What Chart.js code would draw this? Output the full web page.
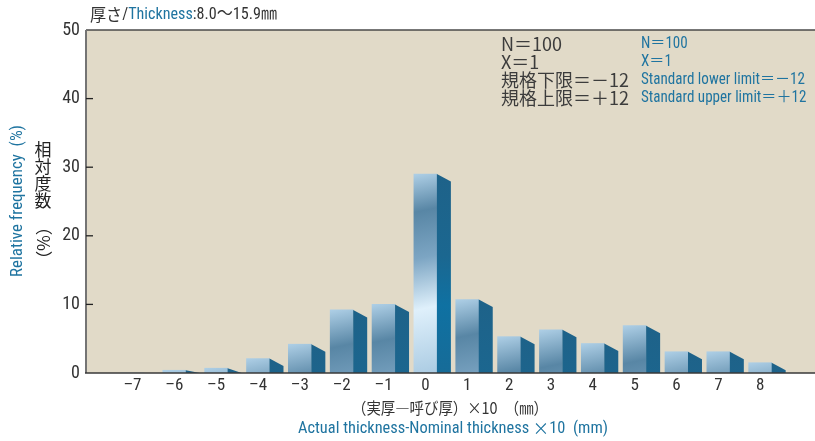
<!DOCTYPE html>
<html>
<head>
<meta charset="utf-8">
<script src="https://cdn.jsdelivr.net/npm/chart.js@4.4.1/dist/chart.umd.min.js"></script>
<style>
  html, body { margin: 0; padding: 0; background: #ffffff; }
  #wrap { width: 815px; height: 441px; }
</style>
</head>
<body>
<div id="wrap"><canvas id="chart" width="815" height="441"></canvas></div>
<script>
// Deviation classes: (actual - nominal thickness) x 10, in mm
const categories = [-7, -6, -5, -4, -3, -2, -1, 0, 1, 2, 3, 4, 5, 6, 7, 8];
// Relative frequency of each class, %
const frequency = [0, 0.4, 0.7, 2.1, 4.2, 9.2, 10.0, 29.0, 10.7, 5.3, 6.3, 4.3, 6.9, 3.1, 3.1, 1.5];
// Vertical axis ticks, %
const yTicks = [0, 10, 20, 30, 40, 50];

// Summary notes (Japanese / English)
const notesJa = ['N＝100', 'X＝1', '規格下限＝－12', '規格上限＝＋12'];
const notesEn = ['N＝100', 'X＝1', 'Standard lower limit＝－12', 'Standard upper limit＝＋12'];

const TEAL = '#1f74a0';
const DARK = '#333333';
const LAT = '"Roboto Condensed", "DejaVu Sans Condensed", "Liberation Sans Narrow", Roboto, "Noto Sans CJK JP", sans-serif';
const JP = '"Noto Sans CJK JP", sans-serif';
const DEPTH = 14;   // side face width
const SLANT = 7.5;  // side face top drop

function frontFill(ctx) {
  const chart = ctx.chart;
  if (!chart.chartArea || ctx.type !== 'data') return '#8fb5d0';
  const x = chart.scales.x.getPixelForValue(ctx.raw.x);
  const top = chart.scales.y.getPixelForValue(ctx.raw.y);
  const g = chart.ctx.createLinearGradient(x - 12, top, x + 30, top + 205);
  g.addColorStop(0, '#aecfe6');
  g.addColorStop(0.18, '#5886a5');
  g.addColorStop(0.4, '#7ca5c3');
  g.addColorStop(0.64, '#dff0fb');
  g.addColorStop(1, '#a3c6df');
  return g;
}

const bgPlugin = {
  id: 'plotBackground',
  beforeDatasetsDraw(chart) {
    const { ctx, chartArea: a } = chart;
    ctx.save();
    ctx.fillStyle = '#e1dac8';
    ctx.fillRect(a.left, a.top, a.right - a.left, a.bottom - a.top);
    ctx.restore();
  }
};

const depthPlugin = {
  id: 'barDepth',
  afterDatasetsDraw(chart) {
    const { ctx } = chart;
    const meta = chart.getDatasetMeta(0);
    ctx.save();
    meta.data.forEach((bar) => {
      const p = bar.getProps(['x', 'y', 'base', 'width'], true);
      if (p.base - p.y < 0.5) return;
      const xr = p.x + p.width / 2;
      const yTopBack = Math.min(p.y + SLANT, p.base);
      const g = ctx.createLinearGradient(xr, p.y, xr, p.y + 205);
      g.addColorStop(0, '#1e6289');
      g.addColorStop(0.4, '#1b6790');
      g.addColorStop(0.64, '#0f71a2');
      g.addColorStop(1, '#176b97');
      ctx.fillStyle = g;
      ctx.beginPath();
      ctx.moveTo(xr, p.y);
      ctx.lineTo(xr + DEPTH, yTopBack);
      ctx.lineTo(xr + DEPTH, p.base);
      ctx.lineTo(xr, p.base);
      ctx.closePath();
      ctx.fill();
    });
    ctx.restore();
  }
};

const axesPlugin = {
  id: 'axisFrame',
  afterDatasetsDraw(chart) {
    const { ctx, chartArea: a, scales } = chart;
    ctx.save();
    // top border
    ctx.strokeStyle = '#4a4a4a';
    ctx.lineWidth = 1.5;
    ctx.beginPath(); ctx.moveTo(a.left, a.top); ctx.lineTo(a.right, a.top); ctx.stroke();
    // left axis
    ctx.strokeStyle = '#747474';
    ctx.lineWidth = 2;
    ctx.beginPath(); ctx.moveTo(a.left, a.top); ctx.lineTo(a.left, a.bottom); ctx.stroke();
    // inward tick marks
    ctx.strokeStyle = '#222222';
    ctx.lineWidth = 1.3;
    yTicks.slice(1, -1).forEach((v) => {
      const y = scales.y.getPixelForValue(v);
      ctx.beginPath(); ctx.moveTo(a.left, y); ctx.lineTo(a.left + 7, y); ctx.stroke();
    });
    // baseline
    ctx.strokeStyle = '#383838';
    ctx.lineWidth = 1.6;
    ctx.beginPath(); ctx.moveTo(a.left - 1, a.bottom); ctx.lineTo(a.right, a.bottom); ctx.stroke();
    ctx.restore();
  }
};

// draws a run of coloured text pieces squeezed horizontally to a given width
function drawFitted(ctx, segs, x, y, width, align) {
  let total = 0;
  segs.forEach(([text, , font]) => { ctx.font = font; total += ctx.measureText(text).width; });
  const k = width / total;
  ctx.save();
  ctx.textAlign = 'left';
  let left = x;
  if (align === 'center') left = x - width / 2;
  ctx.translate(left, y);
  ctx.scale(k, 1);
  let cx = 0;
  segs.forEach(([text, color, font]) => {
    ctx.font = font;
    ctx.fillStyle = color;
    ctx.fillText(text, cx, 0);
    cx += ctx.measureText(text).width;
  });
  ctx.restore();
}

const textPlugin = {
  id: 'captions',
  afterDraw(chart) {
    const { ctx } = chart;
    ctx.save();
    ctx.textBaseline = 'middle';
    ctx.textAlign = 'left';

    // thickness range caption
    drawFitted(ctx, [
      ['厚さ', DARK, '17px ' + JP],
      ['/', DARK, '17px ' + LAT],
      ['Thickness', TEAL, '17px ' + LAT],
      [':8.0～15.9㎜', DARK, '17px ' + LAT]
    ], 90, 15, 187, 'left');

    // summary notes
    const rows = [44, 62, 80, 98];
    ctx.fillStyle = '#3c3c3c';
    ctx.font = '18px ' + JP;
    notesJa.forEach((t, i) => ctx.fillText(t, 501, rows[i]));
    ctx.font = '16px ' + LAT;
    const kEn = 164 / ctx.measureText(notesEn[2]).width;
    notesEn.forEach((t, i) => {
      ctx.font = '16px ' + LAT;
      drawFitted(ctx, [[t, TEAL, '16px ' + LAT]], 641, rows[i], ctx.measureText(t).width * kEn, 'left');
    });

    // x axis titles
    drawFitted(ctx, [['（実厚―呼び厚）×10　（㎜）', DARK, '16px ' + JP]], 450, 408, 196, 'center');
    drawFitted(ctx, [
      ['Actual thickness-Nominal thickness ', TEAL, '17px ' + LAT],
      ['×', TEAL, '17px ' + JP],
      ['10  (mm)', TEAL, '17px ' + LAT]
    ], 453, 429, 310, 'center');

    // y axis titles
    ctx.save();
    ctx.translate(18, 201);
    ctx.rotate(-Math.PI / 2);
    drawFitted(ctx, [['Relative frequency  (%)', TEAL, '17px ' + LAT]], 0, 0, 152, 'center');
    ctx.restore();

    ctx.fillStyle = '#222222';
    ctx.font = '17px ' + JP;
    ctx.textAlign = 'center';
    ['相', '対', '度', '数'].forEach((c, i) => ctx.fillText(c, 43, 150 + i * 17));
    ctx.save();
    ctx.translate(43, 243);
    ctx.rotate(Math.PI / 2);
    ctx.fillText('（%）', 0, 0);
    ctx.restore();

    ctx.restore();
  }
};

new Chart(document.getElementById('chart'), {
  type: 'bar',
  data: {
    datasets: [{
      data: categories.map((c, i) => ({ x: c, y: frequency[i] })),
      barThickness: 23,
      backgroundColor: frontFill,
      borderWidth: 0
    }]
  },
  options: {
    responsive: false,
    animation: false,
    devicePixelRatio: 1,
    layout: { padding: { top: 30, right: 0, left: 0, bottom: 0 } },
    plugins: { legend: { display: false }, tooltip: { enabled: false } },
    scales: {
      x: {
        type: 'linear',
        offset: false,
        min: -8.11,
        max: 9.31,
        grid: { display: false, drawTicks: false, offset: false },
        border: { display: false },
        afterBuildTicks(scale) { scale.ticks = categories.map((v) => ({ value: v })); },
        afterFit(scale) { scale.height = 68; },
        ticks: {
          autoSkip: false,
          maxRotation: 0,
          padding: 3,
          color: DARK,
          font: { family: LAT, size: 17 },
          callback: (v) => (v < 0 ? '\u2013' + Math.abs(v) : String(v))
        }
      },
      y: {
        min: 0,
        max: 50,
        grid: { display: false, drawTicks: false },
        border: { display: false },
        afterBuildTicks(scale) { scale.ticks = yTicks.map((v) => ({ value: v })); },
        afterFit(scale) { scale.width = 86; },
        ticks: {
          padding: 6,
          color: DARK,
          font: { family: LAT, size: 18 }
        }
      }
    }
  },
  plugins: [bgPlugin, depthPlugin, axesPlugin, textPlugin]
});
</script>
</body>
</html>
